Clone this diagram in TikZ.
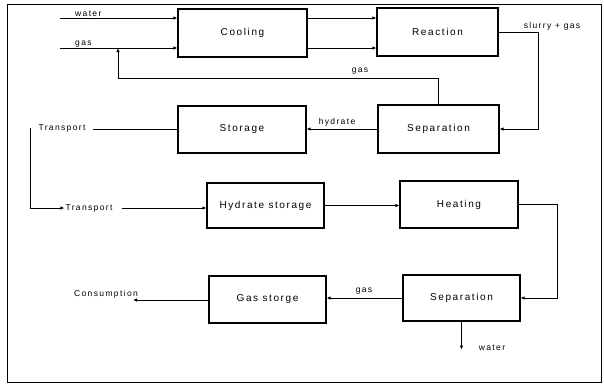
\documentclass[tikz,border=0pt]{standalone}
\usepackage{fontspec}
\setmainfont{Liberation Sans}[LetterSpace=16]
\usepackage{tikz}
\usetikzlibrary{positioning}
\usetikzlibrary{arrows.meta}
\tikzset{
  unit/.style={draw, line width=1.2pt, inner sep=0pt, font=\fontsize{10}{12}\selectfont},
  lbl/.style={inner sep=1pt, font=\fontsize{8.5}{10}\selectfont},
  flow/.style={line width=1pt, -{Latex[length=4pt,width=3.5pt]}},
  line/.style={line width=1pt}
}

\begin{document}
\begin{tikzpicture}[x=1pt,y=-1pt]
\useasboundingbox (0,0) rectangle (604,386);
\draw[line width=1pt] (7,4) rectangle (601,382);

\node[unit, minimum width=129pt, minimum height=48pt] (cool) at (242.5,33) {Cooling};
\node[unit, minimum width=121pt, minimum height=48pt] (reac) at (437.5,32) {Reaction};
\node[unit, minimum width=121pt, minimum height=48pt] (sepa) at (438.5,129) {Separation};
\node[unit, minimum width=128pt, minimum height=47pt] (stor) at (242,129.5) {Storage};
\node[unit, minimum width=117pt, minimum height=45pt] (hyds) at (265.5,205.5) {Hydrate storage};
\node[unit, minimum width=118pt, minimum height=47pt] (heat) at (459,204.5) {Heating};
\node[unit, minimum width=117pt, minimum height=46pt] (sepb) at (461.5,298) {Separation};
\node[unit, minimum width=117pt, minimum height=47pt] (gsto) at (267.5,299.5) {Gas storge};

\coordinate (win) at (60,18);
\coordinate (gin) at (60,48);
\node[lbl, above right=0pt and 14pt of win] {water};
\node[lbl, above right=0pt and 14pt of gin] {gas};
\draw[flow] (win) -- (win -| cool.west);
\draw[flow] (gin) -- (gin -| cool.west);
\draw[flow] (win -| cool.east) -- (win -| reac.west);
\draw[flow] (gin -| cool.east) -- (gin -| reac.west);

\draw[flow] (reac.east) -- ++(40,0) |- (sepa.east);
\node[lbl] at (552,26) {slurry + gas};

\coordinate (grec) at (118,78);
\draw[flow] (sepa.north) |- (grec) -- (grec |- gin);
\node[lbl] at (360,71) {gas};

\draw[flow] (sepa.west) -- (sepa.west -| stor.east);
\node[lbl] at (337,122) {hydrate};

\node[lbl] (trout) at (62,128) {Transport};
\draw[line] (stor.west) -- ++(-84,0);
\coordinate (tbend) at (30,208);
\node[lbl] (trin) at (89,208) {Transport};
\draw[flow] (trout.west -| tbend) -- (tbend) -- (trin.west);
\draw[flow] (trin.east) ++(8,0) -- (trin.east -| hyds.west);

\draw[flow] (hyds.east) -- (hyds.east -| heat.west);
\draw[flow] (heat.east) -- ++(39,0) |- (sepb.east);

\draw[flow] (sepb.west) -- (sepb.west -| gsto.east);
\node[lbl] at (364,291) {gas};

\coordinate (cons) at (133,300);
\draw[flow] (gsto.west |- cons) -- (cons);
\node[lbl] at (106,294) {Consumption};

\draw[flow] (sepb.south) -- ++(0,28);
\node[lbl] at (492,348) {water};
\end{tikzpicture}
\end{document}
